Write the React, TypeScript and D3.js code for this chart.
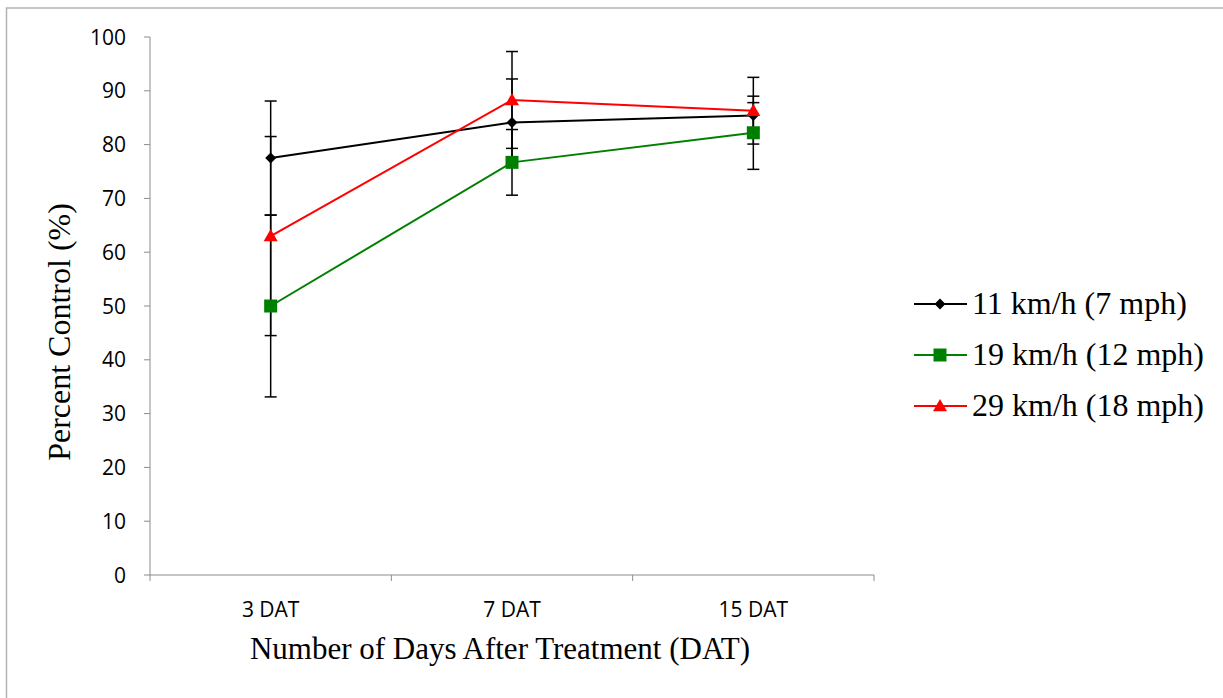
import React from "react";
import * as d3 from "d3";

const categories = ["3 DAT", "7 DAT", "15 DAT"];
const seriesNames = ["11 km/h (7 mph)", "19 km/h (12 mph)", "29 km/h (18 mph)"];
const speed11 = [77.5, 84.1, 85.4];
const speed19 = [50.0, 76.7, 82.2];
const speed29 = [63.0, 88.3, 86.3];
const err11 = [10.6, 8.1, 2.4];
const err19 = [16.9, 6.1, 6.8];
const err29 = [18.5, 9.0, 6.2];
const yTicks = [0, 10, 20, 30, 40, 50, 60, 70, 80, 90, 100];

const colors = ["#000000", "#008000", "#ff0000"];
const markers = ["diamond", "square", "triangle"];

function Marker({ type, x, y, color }: { type: string; x: number; y: number; color: string }) {
  if (type === "diamond") {
    const s = 5.5;
    return <path d={`M${x},${y - s}L${x + s},${y}L${x},${y + s}L${x - s},${y}Z`} fill={color} />;
  }
  if (type === "square") {
    const s = 6.5;
    return <rect x={x - s} y={y - s} width={2 * s} height={2 * s} fill={color} />;
  }
  const s = 7;
  return <path d={`M${x},${y - s}L${x + s},${y + s * 0.75}L${x - s},${y + s * 0.75}Z`} fill={color} />;
}

export default function App() {
  const W = 1223, H = 698;
  const x0 = 150, x1 = 874, yTop = 37, yBot = 575;
  const x = d3.scaleBand().domain(categories).range([x0, x1]);
  const y = d3.scaleLinear().domain([0, 100]).range([yBot, yTop]);
  const cx = (c: string) => (x(c) as number) + x.bandwidth() / 2;
  const series = [
    { name: seriesNames[0], vals: speed11, errs: err11 },
    { name: seriesNames[1], vals: speed19, errs: err19 },
    { name: seriesNames[2], vals: speed29, errs: err29 },
  ];
  const line = d3.line<number>().x((_, i) => cx(categories[i])).y((v) => y(v));
  const sans = "'Open Sans', 'Liberation Sans', sans-serif";
  const serif = "'Liberation Serif', 'Times New Roman', serif";
  const axisColor = "#8c8c8c";
  const ticksX = [x0, ...categories.map((c) => (x(c) as number) + x.bandwidth())];

  return (
    <svg width={W} height={H} style={{ position: "absolute", left: 0, top: 0, background: "#fff" }}>
      <rect x={6.5} y={8} width={W + 20} height={H + 20} fill="none" stroke="#b3b3b3" strokeWidth={1.5} />
      {/* y axis */}
      <line x1={x0} x2={x0} y1={yTop} y2={yBot} stroke={axisColor} />
      {yTicks.map((t) => (
        <g key={t}>
          <line x1={x0 - 6} x2={x0} y1={y(t)} y2={y(t)} stroke={axisColor} />
          <text x={x0 - 24} y={y(t)} dy="0.36em" textAnchor="end" fontFamily={sans} fontSize={21} fill="#000">
            {t}
          </text>
        </g>
      ))}
      {/* x axis */}
      <line x1={x0} x2={x1} y1={yBot} y2={yBot} stroke={axisColor} />
      {ticksX.map((tx, i) => (
        <line key={i} x1={tx} x2={tx} y1={yBot} y2={yBot + 6} stroke={axisColor} />
      ))}
      {categories.map((c) => (
        <text key={c} x={cx(c)} y={617} textAnchor="middle" fontFamily={sans} fontSize={21} fill="#000">
          {c}
        </text>
      ))}
      {/* error bars */}
      {series.map((s, si) =>
        s.vals.map((v, i) => {
          const px = cx(categories[i]);
          const hi = y(v + s.errs[i]);
          const lo = y(v - s.errs[i]);
          return (
            <g key={`e${si}-${i}`} stroke="#000" strokeWidth={1.5}>
              <line x1={px} x2={px} y1={hi} y2={lo} />
              <line x1={px - 6} x2={px + 6} y1={hi} y2={hi} />
              <line x1={px - 6} x2={px + 6} y1={lo} y2={lo} />
            </g>
          );
        })
      )}
      {/* lines */}
      {series.map((s, si) => (
        <path key={`l${si}`} d={line(s.vals) || ""} fill="none" stroke={colors[si]} strokeWidth={2} />
      ))}
      {series.map((s, si) =>
        s.vals.map((v, i) => (
          <Marker key={`m${si}-${i}`} type={markers[si]} x={cx(categories[i])} y={y(v)} color={colors[si]} />
        ))
      )}
      {/* axis titles */}
      <text
        transform={`translate(70,332) rotate(-90)`}
        textAnchor="middle"
        fontFamily={serif}
        fontSize={32}
        fill="#000"
      >
        Percent Control (%)
      </text>
      <text x={500} y={659} textAnchor="middle" fontFamily={serif} fontSize={31} fill="#000">
        Number of Days After Treatment (DAT)
      </text>
      {/* legend */}
      {series.map((s, si) => {
        const ly = 304 + si * 51;
        return (
          <g key={`lg${si}`}>
            <line x1={914} x2={967} y1={ly} y2={ly} stroke={colors[si]} strokeWidth={2} />
            <Marker type={markers[si]} x={940} y={ly} color={colors[si]} />
            <text x={972} y={ly + 10} fontFamily={serif} fontSize={32} fill="#000">
              {s.name}
            </text>
          </g>
        );
      })}
    </svg>
  );
}
